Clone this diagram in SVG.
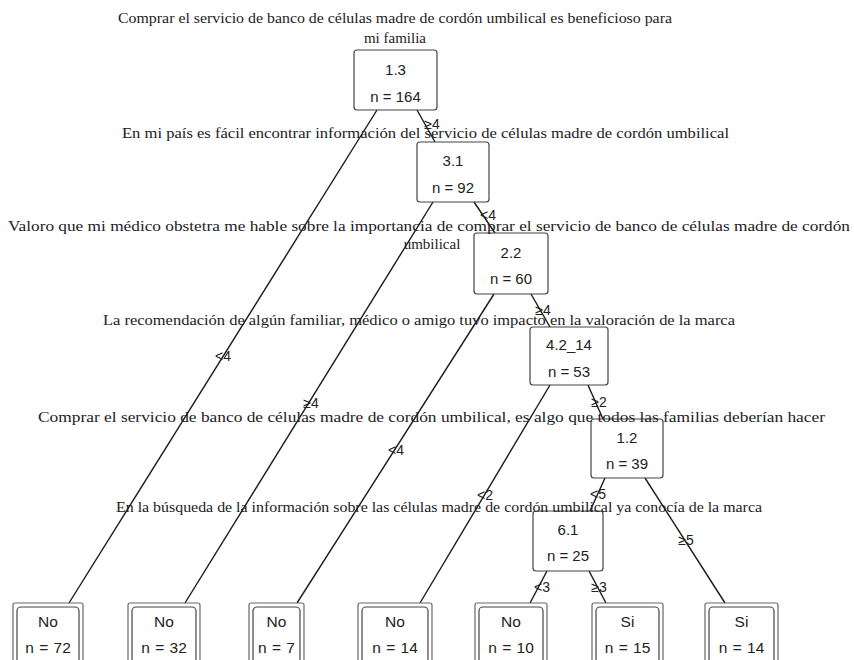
<svg xmlns="http://www.w3.org/2000/svg" width="854" height="660" viewBox="0 0 854 660">
<style>
.hdr{font-family:"Liberation Serif","Times New Roman",serif;font-size:15px;fill:#222}
.nt{font-family:"Liberation Sans",Arial,sans-serif;font-size:15px;fill:#222;text-anchor:middle}
.lt{font-family:"Liberation Sans",Arial,sans-serif;font-size:15.5px;fill:#222;text-anchor:middle;word-spacing:1px}
.el{font-family:"Liberation Sans",Arial,sans-serif;font-size:14px;fill:#222;text-anchor:middle;dominant-baseline:central}
.box{fill:none;stroke:#444;stroke-width:1.2}
.lo{fill:none;stroke:#666;stroke-width:1.2}
.li{fill:none;stroke:#444;stroke-width:1.2}
.edge{stroke:#1a1a1a;stroke-width:1.4;fill:none}
</style>
<rect width="854" height="660" fill="#fff"/>
<g id="connectors">
<line class="edge" x1="377" y1="110" x2="69" y2="603"/>
<line class="edge" x1="417" y1="110" x2="435" y2="142"/>
<line class="edge" x1="433" y1="202" x2="185" y2="603"/>
<line class="edge" x1="474" y1="202" x2="495" y2="233"/>
<line class="edge" x1="494" y1="294" x2="297" y2="603"/>
<line class="edge" x1="531" y1="294" x2="550" y2="327"/>
<line class="edge" x1="550" y1="385" x2="420" y2="603"/>
<line class="edge" x1="588" y1="385" x2="603" y2="419"/>
<line class="edge" x1="605" y1="478" x2="590" y2="511"/>
<line class="edge" x1="645" y1="478" x2="725" y2="603"/>
<line class="edge" x1="547" y1="571" x2="530" y2="603"/>
<line class="edge" x1="589" y1="571" x2="606" y2="603"/>
<text class="el" x="223" y="356">&lt;4</text>
<text class="el" x="432" y="124">≥4</text>
<text class="el" x="311" y="403">≥4</text>
<text class="el" x="488" y="215">&lt;4</text>
<text class="el" x="396" y="450">&lt;4</text>
<text class="el" x="543" y="310">≥4</text>
<text class="el" x="485" y="495">&lt;2</text>
<text class="el" x="599" y="402">≥2</text>
<text class="el" x="598" y="494">&lt;5</text>
<text class="el" x="686" y="540">≥5</text>
<text class="el" x="542" y="587">&lt;3</text>
<text class="el" x="599" y="587">≥3</text>
</g>
<g id="n1"><rect class="box" x="354" y="50" width="83" height="60" rx="3"/><text class="nt" x="395.5" y="75">1.3</text><text class="nt" x="395.5" y="102">n = 164</text></g>
<g id="n2"><rect class="box" x="417" y="142" width="72" height="60" rx="3"/><text class="nt" x="453" y="166">3.1</text><text class="nt" x="453" y="193">n = 92</text></g>
<g id="n3"><rect class="box" x="474" y="233" width="74" height="61" rx="3"/><text class="nt" x="511" y="258">2.2</text><text class="nt" x="511" y="284">n = 60</text></g>
<g id="n4"><rect class="box" x="530" y="327" width="78" height="58" rx="3"/><text class="nt" x="569" y="350">4.2_14</text><text class="nt" x="569" y="377">n = 53</text></g>
<g id="n5"><rect class="box" x="591" y="419" width="72" height="59" rx="3"/><text class="nt" x="627" y="443">1.2</text><text class="nt" x="627" y="469">n = 39</text></g>
<g id="n6"><rect class="box" x="533" y="511" width="70" height="60" rx="3"/><text class="nt" x="568" y="535">6.1</text><text class="nt" x="568" y="561">n = 25</text></g>
<g id="l1"><rect class="lo" x="13" y="603" width="70" height="70" rx="2"/><rect class="li" x="17" y="607" width="62" height="62" rx="4"/><text class="lt" x="48" y="627">No</text><text class="lt" x="48" y="653">n = 72</text></g>
<g id="l2"><rect class="lo" x="128" y="603" width="72" height="70" rx="2"/><rect class="li" x="132" y="607" width="64" height="62" rx="4"/><text class="lt" x="164" y="627">No</text><text class="lt" x="164" y="653">n = 32</text></g>
<g id="l3"><rect class="lo" x="249" y="603" width="55" height="70" rx="2"/><rect class="li" x="253" y="607" width="47" height="62" rx="4"/><text class="lt" x="276.5" y="627">No</text><text class="lt" x="276.5" y="653">n = 7</text></g>
<g id="l4"><rect class="lo" x="358" y="603" width="74" height="70" rx="2"/><rect class="li" x="362" y="607" width="66" height="62" rx="4"/><text class="lt" x="395" y="627">No</text><text class="lt" x="395" y="653">n = 14</text></g>
<g id="l5"><rect class="lo" x="475" y="603" width="72" height="70" rx="2"/><rect class="li" x="479" y="607" width="64" height="62" rx="4"/><text class="lt" x="511" y="627">No</text><text class="lt" x="511" y="653">n = 10</text></g>
<g id="l6"><rect class="lo" x="592" y="603" width="71" height="70" rx="2"/><rect class="li" x="596" y="607" width="63" height="62" rx="4"/><text class="lt" x="627.5" y="627">Si</text><text class="lt" x="627.5" y="653">n = 15</text></g>
<g id="l7"><rect class="lo" x="705" y="603" width="73" height="70" rx="2"/><rect class="li" x="709" y="607" width="65" height="62" rx="4"/><text class="lt" x="741.5" y="627">Si</text><text class="lt" x="741.5" y="653">n = 14</text></g>
<g id="headers">
<text class="hdr" x="118" y="23" textLength="554" lengthAdjust="spacingAndGlyphs">Comprar el servicio de banco de células madre de cordón umbilical es beneficioso para</text>
<text class="hdr" x="395" y="43" text-anchor="middle">mi familia</text>
<text class="hdr" x="122" y="138" textLength="607" lengthAdjust="spacingAndGlyphs">En mi país es fácil encontrar información del servicio de células madre de cordón umbilical</text>
<text class="hdr" x="8" y="231" textLength="842" lengthAdjust="spacingAndGlyphs">Valoro que mi médico obstetra me hable sobre la importancia de comprar el servicio de banco de células madre de cordón</text>
<text class="hdr" x="432" y="249" text-anchor="middle">umbilical</text>
<text class="hdr" x="103" y="325" textLength="632" lengthAdjust="spacingAndGlyphs">La recomendación de algún familiar, médico o amigo tuvo impacto en la valoración de la marca</text>
<text class="hdr" x="38" y="422" textLength="787" lengthAdjust="spacingAndGlyphs">Comprar el servicio de banco de células madre de cordón umbilical, es algo que todos las familias deberían hacer</text>
<text class="hdr" x="116" y="512" textLength="646" lengthAdjust="spacingAndGlyphs">En la búsqueda de la información sobre las células madre de cordón umbilical ya conocía de la marca</text>
</g>
</svg>
